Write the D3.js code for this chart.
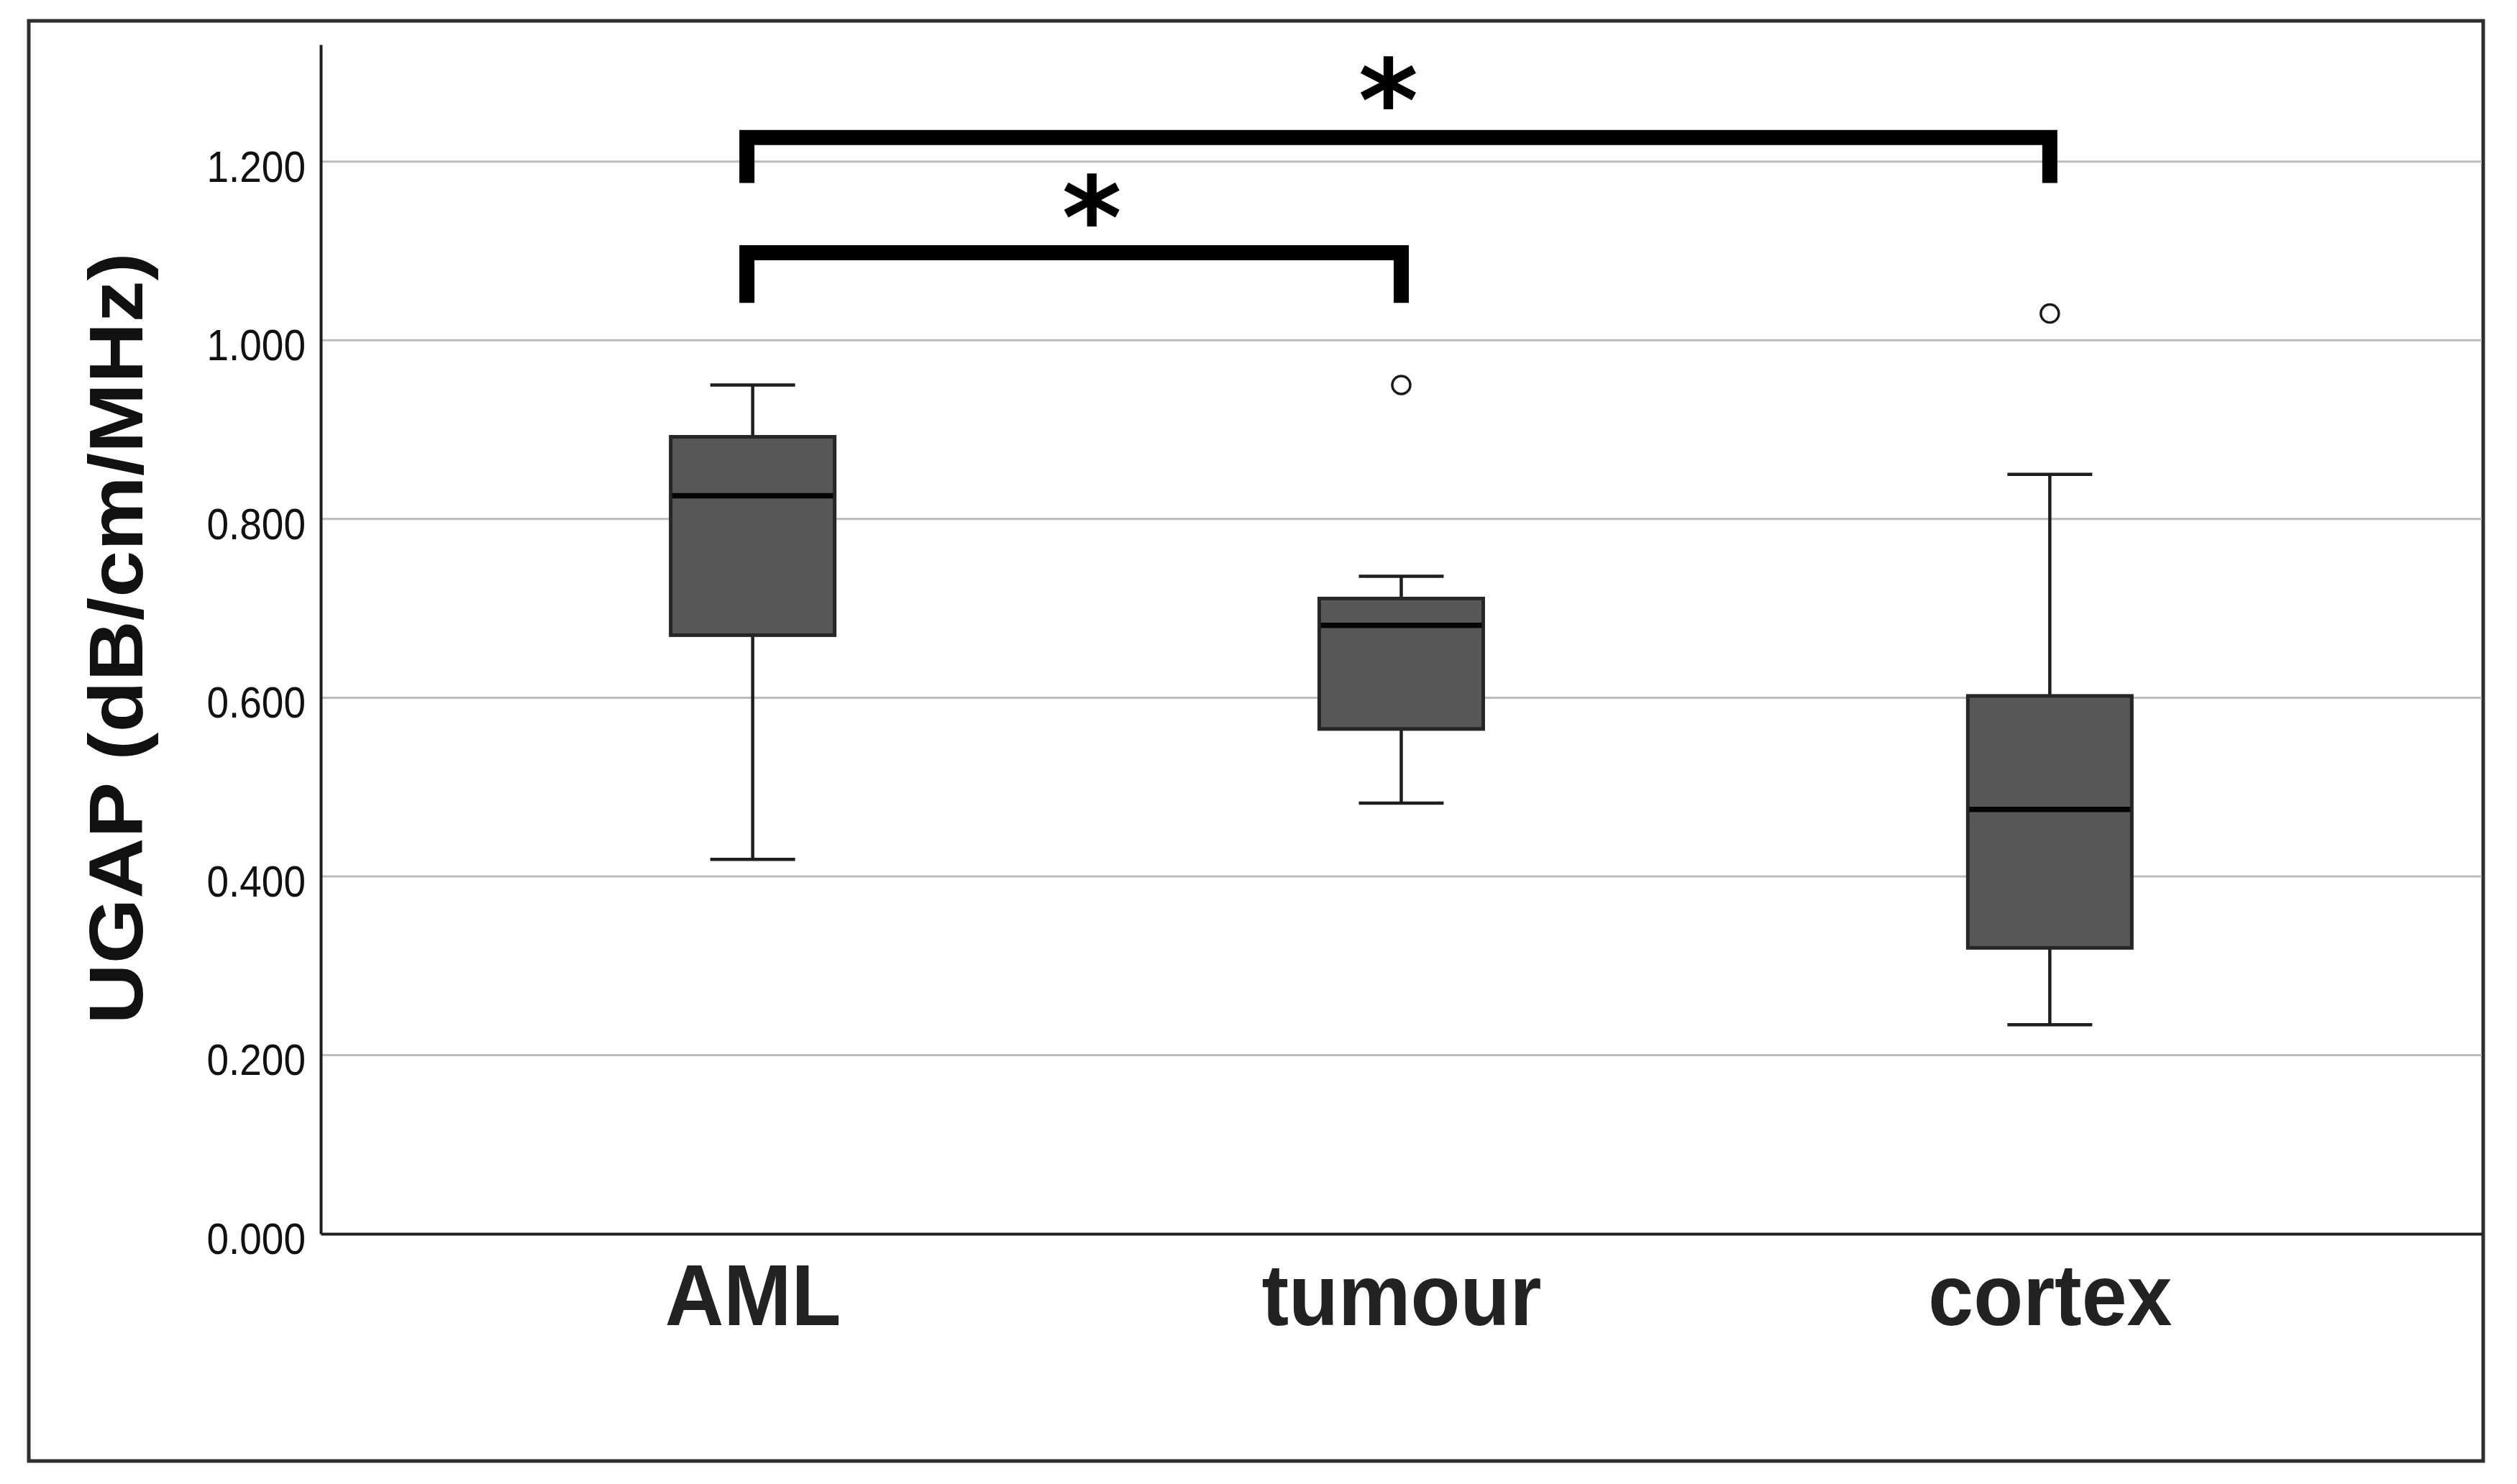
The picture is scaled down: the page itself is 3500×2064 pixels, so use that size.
<!DOCTYPE html>
<html>
<head>
<meta charset="utf-8">
<script src="https://cdn.jsdelivr.net/npm/d3@7"></script>
<style>
  html, body { margin: 0; padding: 0; background: #ffffff; }
  svg { display: block; }
</style>
</head>
<body>
<svg id="chart" width="3500" height="2064"></svg>
<script>
// ---------- data ----------
const categories = ["AML", "tumour", "cortex"];
const whiskerLow  = [0.419, 0.482, 0.234];
const q1          = [0.670, 0.565, 0.320];
const median      = [0.826, 0.681, 0.475];
const q3          = [0.892, 0.711, 0.602];
const whiskerHigh = [0.950, 0.736, 0.850];
const outliers    = [[], [0.950], [1.030]];

const yTicks      = [0, 0.2, 0.4, 0.6, 0.8, 1.0, 1.2];
const yTickLabels = ["0.000", "0.200", "0.400", "0.600", "0.800", "1.000", "1.200"];
const yLabel = "UGAP (dB/cm/MHz)";

// significance brackets (in data units)
const sigFrom   = ["AML", "AML"];
const sigTo     = ["tumour", "cortex"];
const sigLevel  = [1.098, 1.227];
const sigLegEnd = [1.042, 1.176];
const sigMark   = ["*", "*"];
const sigMarkY  = [1.158, 1.289];   // vertical centre of the mark
const sigMarkShift = [0.523, 0.49]; // position of mark between the two groups (0..1)

// ---------- layout ----------
const W = 3500, H = 2064;
const frame = {x: 40, y: 29, w: 3413, h: 2003};
const plot = {left: 446, right: 3451, top: 62, bottom: 1716};
const FONT = '"Liberation Sans", Arial, Helvetica, sans-serif';
const MARKFONT = '"DejaVu Sans", sans-serif';

const svg = d3.select("#chart");

svg.append("rect")
  .attr("x", frame.x).attr("y", frame.y)
  .attr("width", frame.w).attr("height", frame.h)
  .attr("fill", "#ffffff")
  .attr("stroke", "#2e2e2e").attr("stroke-width", 5);

const y = d3.scaleLinear().domain([0, 1.331]).range([plot.bottom, plot.top]);
const x = d3.scalePoint().domain(categories).range([plot.left, plot.right]).padding(0.666);

// gridlines
svg.append("g").selectAll("line")
  .data(yTicks.filter(d => d > 0))
  .join("line")
  .attr("x1", plot.left).attr("x2", plot.right)
  .attr("y1", d => y(d)).attr("y2", d => y(d))
  .attr("stroke", "#bcbcbc").attr("stroke-width", 3);

// y axis
const yAxis = svg.append("g")
  .attr("transform", `translate(${plot.left},0)`)
  .call(d3.axisLeft(y).tickValues(yTicks)
    .tickFormat((d, i) => yTickLabels[i])
    .tickSize(0).tickSizeOuter(0).tickPadding(21));
yAxis.select(".domain").attr("stroke", "#1e1e1e").attr("stroke-width", 4);
yAxis.selectAll("text")
  .attr("font-family", FONT).attr("font-size", 55)
  .attr("fill", "#111").attr("dy", "0.45em")
  .attr("transform", "scale(1,1.1)");

// x axis
const xAxis = svg.append("g")
  .attr("transform", `translate(0,${plot.bottom})`)
  .call(d3.axisBottom(x).tickSize(0).tickSizeOuter(0).tickPadding(38));
xAxis.select(".domain").attr("stroke", "#1e1e1e").attr("stroke-width", 4);
xAxis.selectAll("text")
  .attr("font-family", FONT).attr("font-size", 113).attr("font-weight", "bold")
  .attr("fill", "#222")
  .attr("transform", "scale(1,1.07)");

// y label
svg.append("text")
  .attr("transform", `translate(198,888) rotate(-90) scale(1.1,1)`)
  .attr("text-anchor", "middle")
  .attr("font-family", FONT).attr("font-size", 106).attr("font-weight", "bold")
  .attr("fill", "#111")
  .text(yLabel);

// ---------- boxes ----------
const boxW = 228, capW = 118;
const boxes = categories.map((c, i) => ({
  c, lo: whiskerLow[i], q1: q1[i], med: median[i], q3: q3[i], hi: whiskerHigh[i], out: outliers[i]
}));

const g = svg.append("g");
const bg = g.selectAll("g.box").data(boxes).join("g").attr("class", "box");

// whiskers
bg.append("line")
  .attr("x1", d => x(d.c)).attr("x2", d => x(d.c))
  .attr("y1", d => y(d.hi)).attr("y2", d => y(d.q3))
  .attr("stroke", "#1e1e1e").attr("stroke-width", 4.5);
bg.append("line")
  .attr("x1", d => x(d.c)).attr("x2", d => x(d.c))
  .attr("y1", d => y(d.q1)).attr("y2", d => y(d.lo))
  .attr("stroke", "#1e1e1e").attr("stroke-width", 4.5);
// caps
bg.append("line")
  .attr("x1", d => x(d.c) - capW / 2).attr("x2", d => x(d.c) + capW / 2)
  .attr("y1", d => y(d.hi)).attr("y2", d => y(d.hi))
  .attr("stroke", "#1e1e1e").attr("stroke-width", 4.5);
bg.append("line")
  .attr("x1", d => x(d.c) - capW / 2).attr("x2", d => x(d.c) + capW / 2)
  .attr("y1", d => y(d.lo)).attr("y2", d => y(d.lo))
  .attr("stroke", "#1e1e1e").attr("stroke-width", 4.5);
// box
bg.append("rect")
  .attr("x", d => x(d.c) - boxW / 2).attr("width", boxW)
  .attr("y", d => y(d.q3)).attr("height", d => y(d.q1) - y(d.q3))
  .attr("fill", "#575757").attr("stroke", "#262626").attr("stroke-width", 5);
// median
bg.append("line")
  .attr("x1", d => x(d.c) - boxW / 2 + 2).attr("x2", d => x(d.c) + boxW / 2 - 2)
  .attr("y1", d => y(d.med)).attr("y2", d => y(d.med))
  .attr("stroke", "#050505").attr("stroke-width", 7.5);
// outliers
bg.selectAll("circle")
  .data(d => d.out.map(v => ({c: d.c, v})))
  .join("circle")
  .attr("cx", d => x(d.c)).attr("cy", d => y(d.v)).attr("r", 12.5)
  .attr("fill", "#fff").attr("stroke", "#1a1a1a").attr("stroke-width", 3.5);

// ---------- significance brackets ----------
const ctx = document.createElement("canvas").getContext("2d");
ctx.font = `bold 100px ${MARKFONT}`;
const m = ctx.measureText("*");
const glyphH100 = m.actualBoundingBoxAscent + m.actualBoundingBoxDescent;
const markFont = 75 / glyphH100 * 100;
const ascMid = (m.actualBoundingBoxAscent - m.actualBoundingBoxDescent) / 2 * markFont / 100;

const sg = svg.append("g");
sigFrom.forEach((f, i) => {
  const x0 = x(f) - 8, x1 = x(sigTo[i]);
  const yl = y(sigLevel[i]), ye = y(sigLegEnd[i]);
  sg.append("path")
    .attr("d", `M${x0},${ye} L${x0},${yl} L${x1},${yl} L${x1},${ye}`)
    .attr("fill", "none").attr("stroke", "#000").attr("stroke-width", 21)
    .attr("stroke-linejoin", "miter");
  sg.append("text")
    .attr("x", x(f) + (x1 - x(f)) * sigMarkShift[i])
    .attr("y", y(sigMarkY[i]) + ascMid)
    .attr("text-anchor", "middle")
    .attr("font-family", MARKFONT).attr("font-weight", "bold")
    .attr("font-size", markFont)
    .attr("fill", "#000")
    .text(sigMark[i]);
});
</script>
</body>
</html>
